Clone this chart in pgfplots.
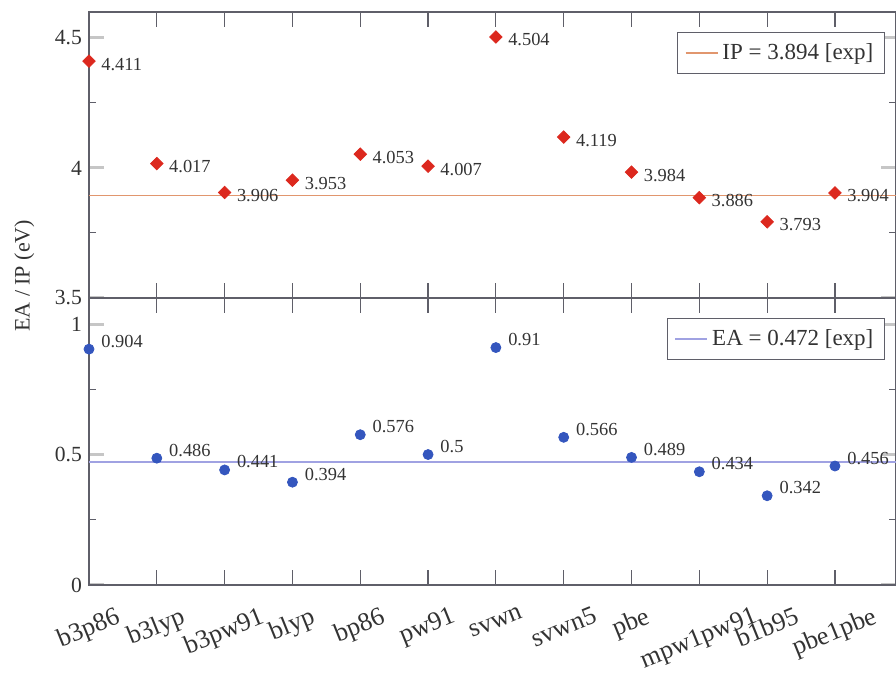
\documentclass[border=0pt]{standalone}
\usepackage{fontspec}
\setmainfont{Liberation Serif}
\usepackage{graphicx}
\usepackage{pgfplots}
\usepackage{pgfplotstable}
\pgfplotsset{compat=1.18}

\definecolor{ipred}{RGB}{220,40,30}
\definecolor{eablue}{RGB}{52,86,190}
\definecolor{ipline}{RGB}{225,150,110}
\definecolor{ealine}{RGB}{160,162,226}
\definecolor{axgray}{RGB}{95,95,105}

% ionisation potentials and electron affinities per functional (eV)
\pgfplotstableread{
x IP EA
0 4.411 0.904
1 4.017 0.486
2 3.906 0.441
3 3.953 0.394
4 4.053 0.576
5 4.007 0.5
6 4.504 0.91
7 4.119 0.566
8 3.984 0.489
9 3.886 0.434
10 3.793 0.342
11 3.904 0.456
}\functionals

\newcommand{\rl}[1]{\rotatebox{22}{#1}}

\pgfplotsset{
  panel/.style={
    scale only axis,
    width=403.5pt,
    xmin=0, xmax=11.9,
    xtick={0,...,11},
    axis line style={axgray, line width=0.6pt},
    major tick length=7.5pt,
    minor tick length=3.5pt,
    minor y tick num=1,
    every major x tick/.append style={axgray, line width=0.6pt},
    every major y tick/.append style={gray!45, line width=1.5pt},
    every minor y tick/.append style={axgray, line width=0.5pt},
    /pgf/number format/assume math mode=true,
    yticklabel style={font=\fontsize{10.8}{12}\selectfont, text=black!80},
    legend style={at={(1,1)}, anchor=north east, xshift=-5.5pt, yshift=-10pt,
      draw=axgray, line width=0.6pt, font=\fontsize{11.5}{13}\selectfont,
      text=black!80, inner xsep=3.5pt, inner ysep=3.5pt},
    legend image code/.code={\draw[##1] (0pt,0pt) -- (16pt,0pt);},
    nodes near coords={\pgfmathprintnumber[fixed,precision=3]{\pgfplotspointmeta}},
    nodes near coords align={anchor=west},
    every node near coord/.append style={font=\fontsize{9.2}{11}\selectfont,
      text=black!80, inner sep=0pt, xshift=6pt},
  },
}

\begin{document}
\begin{tikzpicture}
% upper panel: ionisation potential
\begin{axis}[panel,
  at={(44.5pt,188pt)}, anchor=south west,
  height=143pt,
  ymin=3.5, ymax=4.6,
  ytick={3.5,4,4.5},
  xticklabels={},
]
\addplot[draw=ipline, line width=0.9pt, nodes near coords=] coordinates {(0,3.894) (11.9,3.894)};
\addlegendentry{IP = 3.894 [exp]}
\addplot[only marks, forget plot, mark=square*, mark size=2.2pt,
  mark options={rotate=45, fill=ipred, draw=ipred},
  every node near coord/.append style={yshift=-1.5pt}]
  table[x=x, y=IP] {\functionals};
\end{axis}

% lower panel: electron affinity
\begin{axis}[panel,
  at={(44.5pt,44.5pt)}, anchor=south west,
  height=143.5pt,
  ymin=0, ymax=1.1,
  ytick={0,0.5,1},
  xticklabels={\rl{b3p86},\rl{b3lyp},\rl{b3pw91},\rl{blyp},\rl{bp86},\rl{pw91},
    \rl{svwn},\rl{svwn5},\rl{pbe},\rl{mpw1pw91},\rl{b1b95},\rl{pbe1pbe}},
  xticklabel style={anchor=north, yshift=-7pt, font=\fontsize{13}{15}\selectfont, text=black!80},
  ylabel={EA / IP (eV)},
  ylabel style={at={(axis description cs:-0.080,1.077)}, anchor=center,
    font=\fontsize{11}{13}\selectfont, text=black!80},
]
\addplot[draw=ealine, line width=0.9pt, nodes near coords=] coordinates {(0,0.472) (11.9,0.472)};
\addlegendentry{EA = 0.472 [exp]}
\addplot[only marks, forget plot, mark=*, mark size=2.5pt,
  mark options={fill=eablue, draw=eablue},
  every node near coord/.append style={yshift=4pt}]
  table[x=x, y=EA] {\functionals};
\end{axis}

\pgfresetboundingbox
\path[use as bounding box] (0,0) rectangle (448pt,337pt);
\end{tikzpicture}
\end{document}
